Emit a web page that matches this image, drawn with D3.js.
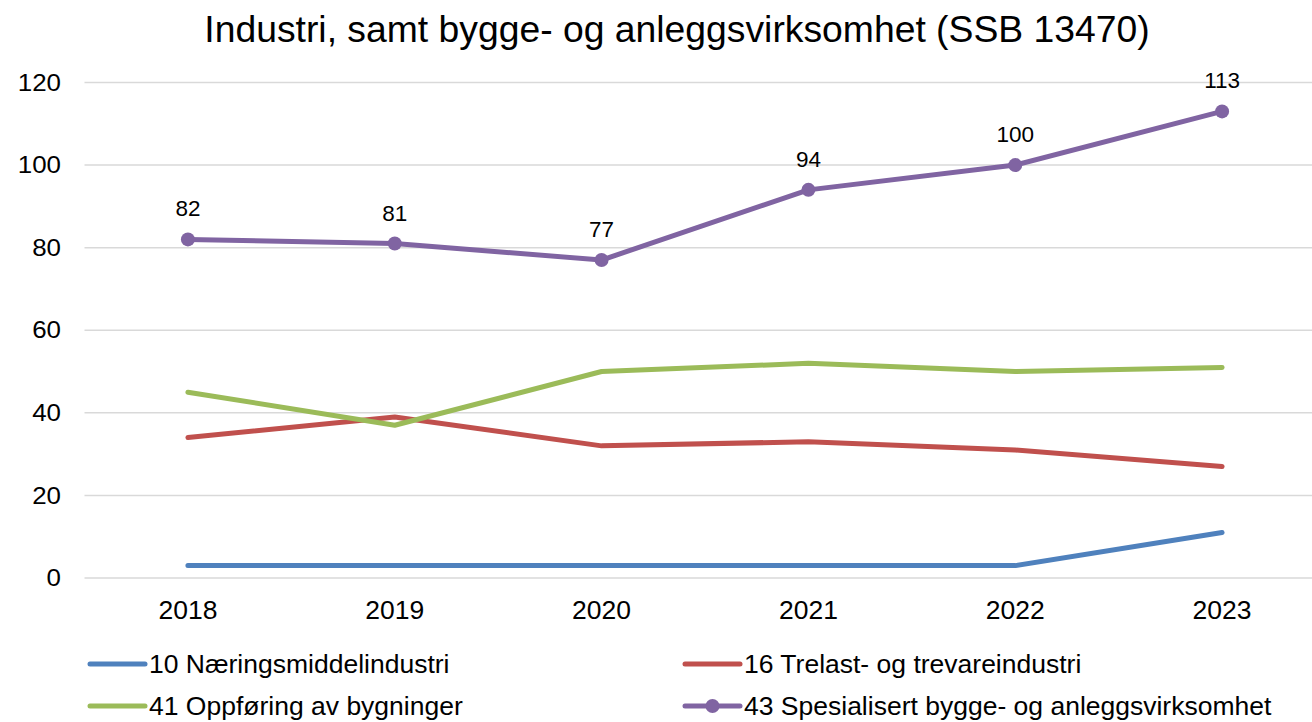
<!DOCTYPE html>
<html>
<head>
<meta charset="utf-8">
<script src="https://cdn.jsdelivr.net/npm/d3@7"></script>
<style>
  body { margin: 0; background: #fff; }
  svg { display: block; font-family: "Liberation Sans", Arial, sans-serif; }
</style>
</head>
<body>
<div id="chart"></div>
<script>
const years = ["2018", "2019", "2020", "2021", "2022", "2023"];
const seriesNames = [
  "10 Næringsmiddelindustri",
  "16 Trelast- og trevareindustri",
  "41 Oppføring av bygninger",
  "43 Spesialisert bygge- og anleggsvirksomhet"
];
const naering = [3, 3, 3, 3, 3, 11];
const trelast = [34, 39, 32, 33, 31, 27];
const oppforing = [45, 37, 50, 52, 50, 51];
const spesialisert = [82, 81, 77, 94, 100, 113];
const colors = ["#4F81BD", "#C0504D", "#9BBB59", "#8064A2"];
const yTicks = [0, 20, 40, 60, 80, 100, 120];

function createChart() {
  const width = 1312;
  const height = 722;
  const values = [naering, trelast, oppforing, spesialisert];

  const svg = d3
    .select("#chart")
    .append("svg")
    .attr("width", width)
    .attr("height", height);

  const x = d3.scaleBand().domain(years).range([84.5, 1325.5]);
  const y = d3.scaleLinear().domain([0, 120]).range([578, 82.5]);

  // title
  svg
    .append("text")
    .attr("x", 677)
    .attr("y", 42)
    .attr("text-anchor", "middle")
    .attr("font-size", 37.3)
    .attr("fill", "#000")
    .text("Industri, samt bygge- og anleggsvirksomhet (SSB 13470)");

  // gridlines
  svg
    .append("g")
    .selectAll("line")
    .data(yTicks)
    .join("line")
    .attr("x1", 84.5)
    .attr("x2", width)
    .attr("y1", (d) => y(d))
    .attr("y2", (d) => y(d))
    .attr("stroke", "#D9D9D9")
    .attr("stroke-width", 1.5);

  // y axis labels
  const yAxis = d3.axisLeft(y).tickValues(yTicks).tickSize(0).tickPadding(0);
  svg
    .append("g")
    .attr("transform", "translate(61,0)")
    .call(yAxis)
    .call((g) => g.select(".domain").remove())
    .selectAll("text")
    .attr("font-size", 24)
    .attr("font-family", "Liberation Sans, Arial, sans-serif")
    .attr("transform", "scale(1.08,1)")
    .attr("fill", "#000");

  // x axis labels
  const xAxis = d3.axisBottom(x).tickSize(0).tickPadding(0);
  svg
    .append("g")
    .attr("transform", "translate(0,601)")
    .call(xAxis)
    .call((g) => g.select(".domain").remove())
    .selectAll("text")
    .attr("font-size", 25)
    .attr("font-family", "Liberation Sans, Arial, sans-serif")
    .attr("transform", "scale(1.06,1)")
    .attr("fill", "#000");

  const cx = (i) => x(years[i]) + x.bandwidth() / 2;
  const line = d3
    .line()
    .x((d, i) => cx(i))
    .y((d) => y(d));

  values.forEach((vals, s) => {
    svg
      .append("path")
      .datum(vals)
      .attr("d", line)
      .attr("fill", "none")
      .attr("stroke", colors[s])
      .attr("stroke-width", 5)
      .attr("stroke-linejoin", "round")
      .attr("stroke-linecap", "round");
  });

  // markers and labels for series 43
  svg
    .append("g")
    .selectAll("circle")
    .data(spesialisert)
    .join("circle")
    .attr("cx", (d, i) => cx(i))
    .attr("cy", (d) => y(d))
    .attr("r", 7)
    .attr("fill", colors[3]);

  svg
    .append("g")
    .selectAll("text")
    .data(spesialisert)
    .join("text")
    .attr("x", (d, i) => cx(i))
    .attr("y", (d) => y(d) - 23)
    .attr("text-anchor", "middle")
    .attr("font-size", 22.5)
    .attr("fill", "#000")
    .text((d) => d);

  // legend
  const legendX = [90, 685];
  const legendY = [664, 706];
  const legend = svg
    .append("g")
    .selectAll("g")
    .data(seriesNames)
    .join("g")
    .attr(
      "transform",
      (d, i) => `translate(${legendX[i % 2]},${legendY[Math.floor(i / 2)]})`
    );

  legend
    .append("line")
    .attr("x1", 0)
    .attr("x2", 55)
    .attr("stroke", (d, i) => colors[i])
    .attr("stroke-width", 5)
    .attr("stroke-linecap", "round");

  legend
    .filter((d, i) => i === 3)
    .append("circle")
    .attr("cx", 27.5)
    .attr("r", 7)
    .attr("fill", colors[3]);

  legend
    .append("text")
    .attr("x", 59)
    .attr("dy", "0.34em")
    .attr("font-size", 26.5)
    .attr("fill", "#000")
    .text((d) => d);
}

document.addEventListener("DOMContentLoaded", createChart);
</script>
</body>
</html>
